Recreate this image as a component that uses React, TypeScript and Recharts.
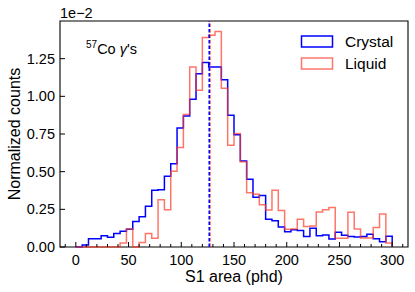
import { ComposedChart, Line, XAxis, YAxis, ReferenceLine, ReferenceArea } from 'recharts'

// histogram bins, width 6 phd, left edges
const BIN_EDGES = [0, 6, 12, 18, 24, 30, 36, 42, 48, 54, 60, 66, 72, 78, 84, 90, 96, 102, 108, 114,
    120, 126, 132, 138, 144, 150, 156, 162, 168, 174, 180, 186, 192, 198, 204, 210, 216, 222, 228, 234,
    240, 246, 252, 258, 264, 270, 276, 282, 288, 294]
const HIST_END = 300

// normalized counts, in units of 1e-2
const CRYSTAL = [0, 0.013, 0.055, 0.055, 0.075, 0.065, 0.09, 0.105, 0.118, 0.17,
    0.2, 0.27, 0.376, 0.38, 0.47, 0.553, 0.79, 0.87, 0.98, 1.15,
    1.225, 1.195, 1.195, 1.11, 0.875, 0.745, 0.57, 0.45, 0.33, 0.342,
    0.185, 0.174, 0.132, 0.102, 0.114, 0.109, 0.069, 0.125, 0.074, 0.08,
    0.053, 0.098, 0.078, 0.069, 0.066, 0.069, 0.084, 0.055, 0.035, 0.072]
const LIQUID = [0, 0, 0, 0, 0, 0, 0, 0.027, 0.12, 0,
    0.03, 0.09, 0.058, 0.314, 0.247, 0.503, 0.66, 0.88, 1.195, 1.04,
    1.39, 1.405, 1.43, 1.054, 0.675, 0.753, 0.565, 0.36, 0.35, 0.28,
    0.245, 0.376, 0.243, 0.118, 0.12, 0.185, 0.136, 0.14, 0.232, 0.247,
    0.263, 0.058, 0.058, 0.23, 0.12, 0.06, 0.06, 0.13, 0.219, 0.027]

const CRYSTAL_MEAN = 126.5
const LIQUID_MEAN = 127.3

const X_TICKS = [-10, 0, 10, 20, 30, 40, 50, 60, 70, 80, 90, 100, 110, 120, 130, 140, 150, 160,
    170, 180, 190, 200, 210, 220, 230, 240, 250, 260, 270, 280, 290, 300, 310]
const Y_TICKS = [0, 0.25, 0.5, 0.75, 1, 1.25]

const BLUE = '#0000ff'
const RED = '#ff3c28'
const FONT = '"Liberation Sans", Arial, sans-serif'

// step outline like matplotlib histtype='step'
const rows: any[] = [{ x: BIN_EDGES[0], crystal: 0, liquid: 0 }]
BIN_EDGES.forEach((e, i) => rows.push({ x: e, crystal: CRYSTAL[i], liquid: LIQUID[i] }))
rows.push({ x: HIST_END, crystal: CRYSTAL[CRYSTAL.length - 1], liquid: LIQUID[LIQUID.length - 1] })
rows.push({ x: HIST_END, crystal: 0, liquid: 0 })

const XTick = ({ x, y, payload }: any) => {
    const v = payload.value
    const major = v % 50 === 0
    return (
        <g>
            <line x1={x} x2={x} y1={y} y2={y - (major ? 5 : 3)} stroke="#000" strokeWidth={1} />
            {major && <text x={x} y={y + 18} textAnchor="middle" fontSize={14.5} fontFamily={FONT} fill="#000">{v}</text>}
        </g>
    )
}

const YTick = ({ x, y, payload }: any) => (
    <g>
        <line x1={x} x2={x + 5} y1={y} y2={y} stroke="#000" strokeWidth={1} />
        <text x={x - 5} y={y + 5} textAnchor="end" fontSize={14.5} fontFamily={FONT} fill="#000">{payload.value.toFixed(2)}</text>
    </g>
)

export default function App() {
    return (
        <div style={{ position: 'relative', width: 415, height: 292 }}>
            <style>{'body{margin:0}'}</style>
            <ComposedChart width={415} height={292} data={rows} margin={{ top: 21, right: 7, left: 0, bottom: 0 }}>
                <Line type="stepAfter" dataKey="crystal" stroke={BLUE} strokeWidth={1.5} dot={false} isAnimationActive={false} />
                <Line type="stepAfter" dataKey="liquid" stroke={RED} strokeOpacity={0.7} strokeWidth={1.5} dot={false} isAnimationActive={false} />
                <ReferenceLine x={LIQUID_MEAN} stroke={RED} strokeOpacity={0.8} strokeWidth={1.5} strokeDasharray="3.5 2" />
                <ReferenceLine x={CRYSTAL_MEAN} stroke={BLUE} strokeWidth={1.5} strokeDasharray="3.5 2" />
                <ReferenceArea x1={-15} x2={315} y1={0} y2={1.5} fill="none" stroke="#000" strokeWidth={1.1} />
                <XAxis type="number" dataKey="x" domain={[-15, 315]} ticks={X_TICKS} interval={0} height={45}
                    axisLine={false} tickLine={false} tickSize={0} tickMargin={0} tick={<XTick />} />
                <YAxis type="number" domain={[0, 1.5]} ticks={Y_TICKS} interval={0} width={60}
                    axisLine={false} tickLine={false} tickSize={0} tickMargin={0} tick={<YTick />} />
            </ComposedChart>
            <svg width={415} height={292} style={{ position: 'absolute', left: 0, top: 0, pointerEvents: 'none' }} fontFamily={FONT}>
                <text x={60} y={18} fontSize={14.5}>1e−2</text>
                <text x={86} y={54} fontSize={14.5}>
                    <tspan fontSize={10} dy={-6}>57</tspan>
                    <tspan dy={6}>Co </tspan>
                    <tspan fontStyle="italic">γ</tspan>
                    <tspan>'s</tspan>
                </text>
                <text transform="translate(20,134) rotate(-90)" textAnchor="middle" fontSize={16}>Normalized counts</text>
                <text x={234} y={282} textAnchor="middle" fontSize={16}>S1 area (phd)</text>
                <rect x={301.5} y={36} width={31} height={11} fill="none" stroke={BLUE} strokeWidth={1.5} />
                <rect x={301.5} y={58} width={31} height={11} fill="none" stroke={RED} strokeOpacity={0.7} strokeWidth={1.5} />
                <text x={345} y={47} fontSize={15.5}>Crystal</text>
                <text x={345} y={69} fontSize={15.5}>Liquid</text>
            </svg>
        </div>
    )
}
